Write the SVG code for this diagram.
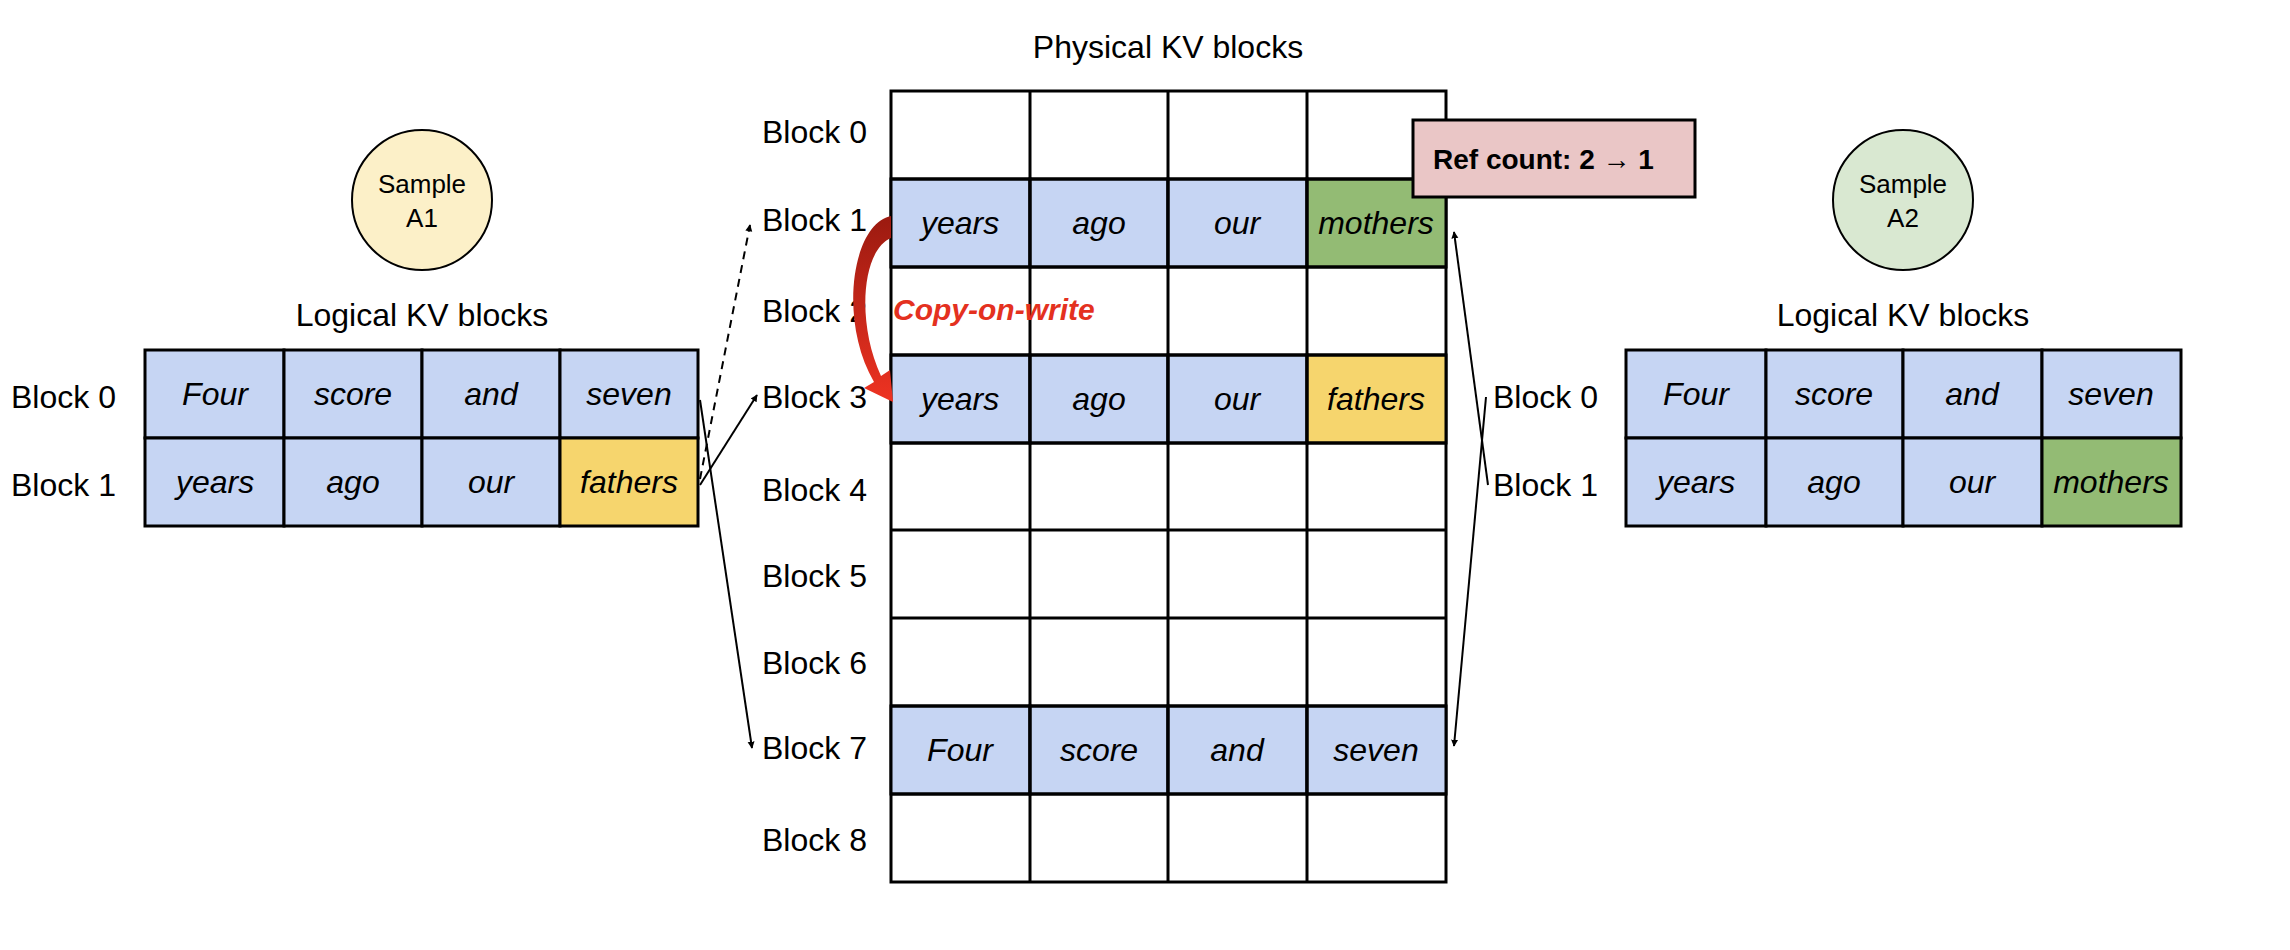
<svg xmlns="http://www.w3.org/2000/svg" width="2290" height="950" viewBox="0 0 2290 950">
<style>
text{font-family:"Liberation Sans",Arial,sans-serif;fill:#000}
.lbl{font-size:32px;dominant-baseline:central}
.c{font-size:32px;font-style:italic;text-anchor:middle;dominant-baseline:central}
.cell{stroke:#000;stroke-width:3}
.b{fill:#c6d5f3}.y{fill:#f6d56d}.g{fill:#93bb74}.w{fill:#fff}
.ln{stroke:#000;stroke-width:2;fill:none;marker-end:url(#ah)}
</style>
<defs>
<marker id="ah" viewBox="0 0 10 10" refX="9" refY="5" markerWidth="7" markerHeight="9" orient="auto" markerUnits="userSpaceOnUse"><path d="M0 0L10 5L0 10Z" fill="#000"/></marker>
<linearGradient id="rg" x1="0" y1="0" x2="0" y2="1"><stop offset="0" stop-color="#9b1a10"/><stop offset="1" stop-color="#ee3322"/></linearGradient>
</defs>
<rect width="2290" height="950" fill="#fff"/>
<text x="1168" y="47" class="lbl" text-anchor="middle">Physical KV blocks</text>
<g id="physical">
<rect class="cell w" x="891" y="91" width="555" height="791"/>
<g id="p1"><rect class="cell b" x="891" y="179" width="139" height="88"/><rect class="cell b" x="1030" y="179" width="138" height="88"/><rect class="cell b" x="1168" y="179" width="139" height="88"/><rect class="cell g" x="1307" y="179" width="139" height="88"/>
<text class="c" x="960" y="223">years</text><text class="c" x="1099" y="223">ago</text><text class="c" x="1237" y="223">our</text><text class="c" x="1376" y="223">mothers</text></g>
<g id="p3"><rect class="cell b" x="891" y="355" width="139" height="88"/><rect class="cell b" x="1030" y="355" width="138" height="88"/><rect class="cell b" x="1168" y="355" width="139" height="88"/><rect class="cell y" x="1307" y="355" width="139" height="88"/>
<text class="c" x="960" y="399">years</text><text class="c" x="1099" y="399">ago</text><text class="c" x="1237" y="399">our</text><text class="c" x="1376" y="399">fathers</text></g>
<g id="p7"><rect class="cell b" x="891" y="706" width="139" height="88"/><rect class="cell b" x="1030" y="706" width="138" height="88"/><rect class="cell b" x="1168" y="706" width="139" height="88"/><rect class="cell b" x="1307" y="706" width="139" height="88"/>
<text class="c" x="960" y="750">Four</text><text class="c" x="1099" y="750">score</text><text class="c" x="1237" y="750">and</text><text class="c" x="1376" y="750">seven</text></g>
<path class="cell" fill="none" d="M1030 91V882M1168 91V882M1307 91V882M891 179H1446M891 267H1446M891 355H1446M891 443H1446M891 530H1446M891 618H1446M891 706H1446M891 794H1446"/>
<text class="lbl" x="762" y="132">Block 0</text><text class="lbl" x="762" y="220">Block 1</text><text class="lbl" x="762" y="311">Block 2</text><text class="lbl" x="762" y="397">Block 3</text><text class="lbl" x="762" y="490">Block 4</text><text class="lbl" x="762" y="576">Block 5</text><text class="lbl" x="762" y="663">Block 6</text><text class="lbl" x="762" y="748">Block 7</text><text class="lbl" x="762" y="840">Block 8</text>
</g>
<g id="sampleA1"><circle cx="422" cy="200" r="70" fill="#fcf0c8" stroke="#000" stroke-width="2"/>
<text x="422" y="184" font-size="26" text-anchor="middle" dominant-baseline="central">Sample</text><text x="422" y="218" font-size="26" text-anchor="middle" dominant-baseline="central">A1</text></g>
<g id="logicalA1"><text class="lbl" x="422" y="315" text-anchor="middle">Logical KV blocks</text>
<rect class="cell b" x="145" y="350" width="139" height="88"/><rect class="cell b" x="284" y="350" width="138" height="88"/><rect class="cell b" x="422" y="350" width="138" height="88"/><rect class="cell b" x="560" y="350" width="138" height="88"/>
<rect class="cell b" x="145" y="438" width="139" height="88"/><rect class="cell b" x="284" y="438" width="138" height="88"/><rect class="cell b" x="422" y="438" width="138" height="88"/><rect class="cell y" x="560" y="438" width="138" height="88"/>
<text class="c" x="215" y="394">Four</text><text class="c" x="353" y="394">score</text><text class="c" x="491" y="394">and</text><text class="c" x="629" y="394">seven</text>
<text class="c" x="215" y="482">years</text><text class="c" x="353" y="482">ago</text><text class="c" x="491" y="482">our</text><text class="c" x="629" y="482">fathers</text>
<text class="lbl" x="11" y="397">Block 0</text><text class="lbl" x="11" y="485">Block 1</text></g>
<g id="sampleA2"><circle cx="1903" cy="200" r="70" fill="#d9e8d1" stroke="#000" stroke-width="2"/>
<text x="1903" y="184" font-size="26" text-anchor="middle" dominant-baseline="central">Sample</text><text x="1903" y="218" font-size="26" text-anchor="middle" dominant-baseline="central">A2</text></g>
<g id="logicalA2"><text class="lbl" x="1903" y="315" text-anchor="middle">Logical KV blocks</text>
<rect class="cell b" x="1626" y="350" width="140" height="88"/><rect class="cell b" x="1766" y="350" width="137" height="88"/><rect class="cell b" x="1903" y="350" width="139" height="88"/><rect class="cell b" x="2042" y="350" width="139" height="88"/>
<rect class="cell b" x="1626" y="438" width="140" height="88"/><rect class="cell b" x="1766" y="438" width="137" height="88"/><rect class="cell b" x="1903" y="438" width="139" height="88"/><rect class="cell g" x="2042" y="438" width="139" height="88"/>
<text class="c" x="1696" y="394">Four</text><text class="c" x="1834" y="394">score</text><text class="c" x="1972" y="394">and</text><text class="c" x="2111" y="394">seven</text>
<text class="c" x="1696" y="482">years</text><text class="c" x="1834" y="482">ago</text><text class="c" x="1972" y="482">our</text><text class="c" x="2111" y="482">mothers</text>
<text class="lbl" x="1493" y="397">Block 0</text><text class="lbl" x="1493" y="485">Block 1</text></g>
<g id="refcount"><rect x="1413" y="120" width="282" height="77" fill="#eac6c6" stroke="#000" stroke-width="3"/>
<text x="1433" y="159" font-size="28" font-weight="bold" dominant-baseline="central">Ref count: 2 → 1</text></g>
<g id="connectors">
<path class="ln" stroke-dasharray="8,6" d="M700 479L750 225"/>
<path class="ln" d="M700 485L757 395"/>
<path class="ln" d="M700 400L752 748"/>
<path class="ln" d="M1486 397L1454 746"/>
<path class="ln" d="M1488 485L1454 232"/>
<path fill="url(#rg)" d="M891 216C852 224 838 320 874 382L864 388L893 402L890 370L881 376C856 322 862 250 891 238Z"/>
</g>
<text x="893" y="309" font-size="30" font-weight="bold" font-style="italic" fill="#e4311f" style="fill:#e4311f" dominant-baseline="central">Copy-on-write</text>
</svg>
